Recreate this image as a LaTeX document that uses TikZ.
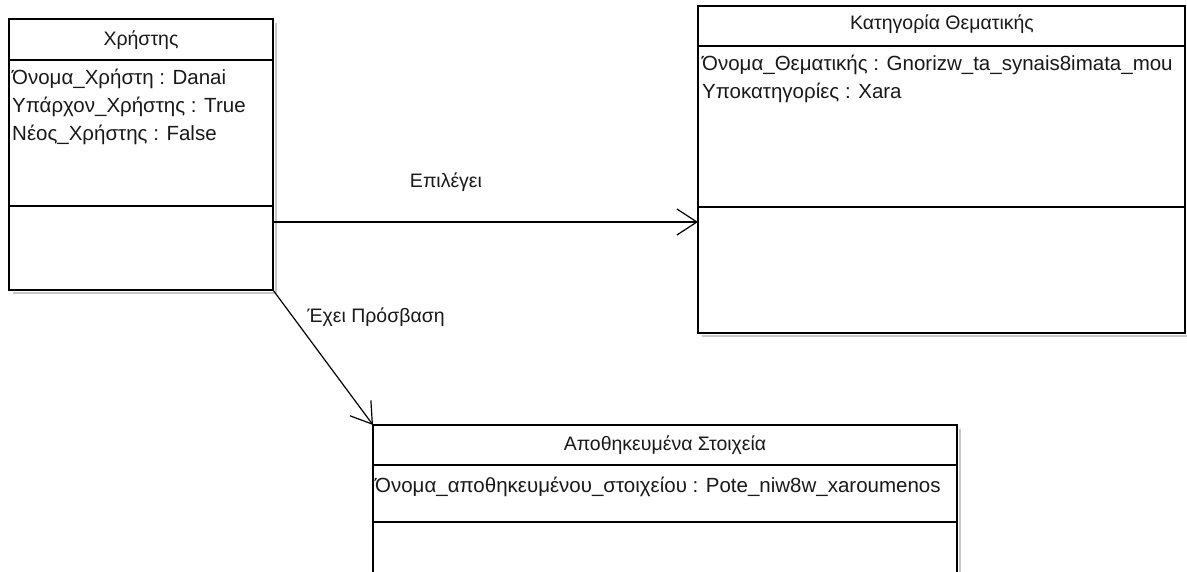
\documentclass[tikz,border=0pt]{standalone}
\usepackage{fontspec}
\setmainfont{Liberation Sans}
\usetikzlibrary{arrows.meta}
\begin{document}
\begin{tikzpicture}[x=1pt,y=-1pt,
  classbox/.style={draw, line width=1.5pt, anchor=north west, inner sep=0pt, outer sep=0pt},
  compart/.style={line width=1.5pt},
  shade/.style={draw=black!22, line width=2pt},
  txt/.style={font=\fontsize{20.5}{24}\selectfont, inner sep=0pt, text=black!90},
  title/.style={txt, font=\fontsize{19.5}{23}\selectfont},
  attr/.style={txt, anchor=west},
  lbl/.style={txt, font=\fontsize{19.5}{23}\selectfont},
  assoc/.style={line width=1.2pt, -{Straight Barb[length=20pt,width=26pt]}}]
\clip (0,0) rectangle (1187,572);
\fill[white] (0,0) rectangle (1187,572);

% soft drop shadows on the right and bottom of each class box
\draw[shade] (276,23) -- (276,293) -- (13,293);
\draw[shade] (702,336) -- (1188,336);
\draw[shade] (960,429) -- (960,572);

% class Χρήστης
\node[classbox, minimum width=264pt, minimum height=271pt] (user) at (9,19) {};
\draw[compart] (user.west |- 0,60) -- (user.east |- 0,60);
\draw[compart] (user.west |- 0,206) -- (user.east |- 0,206);
\node[title] (userT) at (141,40) {Χρήστης};
\node[attr] (userA1) at (12,79) {Όνομα\_Χρήστη : Danai};
\node[attr] (userA2) at (12,107) {Υπάρχον\_Χρήστης : True};
\node[attr] (userA3) at (12,135) {Νέος\_Χρήστης : False};

% class Κατηγορία Θεματικής
\node[classbox, minimum width=487pt, minimum height=327pt] (cat) at (698,6) {};
\draw[compart] (cat.west |- 0,46) -- (cat.east |- 0,46);
\draw[compart] (cat.west |- 0,207) -- (cat.east |- 0,207);
\node[title] (catT) at (942,24) {Κατηγορία Θεματικής};
\node[attr] (catA1) at (702,65) {Όνομα\_Θεματικής : Gnorizw\_ta\_synais8imata\_mou};
\node[attr] (catA2) at (702,93) {Υποκατηγορίες : Xara};

% class Αποθηκευμένα Στοιχεία
\node[classbox, minimum width=584pt, minimum height=200pt] (store) at (373,425) {};
\draw[compart] (store.west |- 0,465) -- (store.east |- 0,465);
\draw[compart] (store.west |- 0,522) -- (store.east |- 0,522);
\node[title] (storeT) at (665,445) {Αποθηκευμένα Στοιχεία};
\node[attr] (storeA1) at (375,487) {Όνομα\_αποθηκευμένου\_στοιχείου : Pote\_niw8w\_xaroumenos};

% associations
\draw[assoc] (user.east |- 0,222) -- (cat.west |- 0,222);
\node[lbl] (selLbl) at (446,182) {Επιλέγει};
\draw[assoc] (user.south east) -- (store.north west);
\node[lbl] (accLbl) at (376,317) {Έχει Πρόσβαση};
\end{tikzpicture}
\end{document}
